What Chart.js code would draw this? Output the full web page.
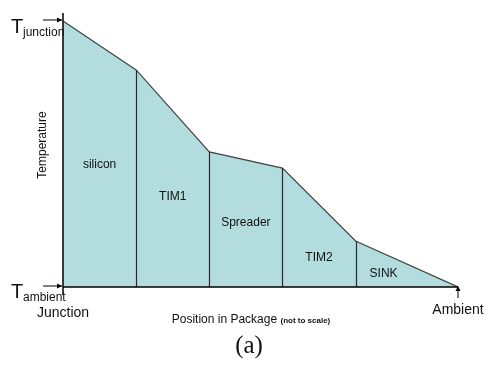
<!DOCTYPE html>
<html>
<head>
<meta charset="utf-8">
<script src="https://cdn.jsdelivr.net/npm/chart.js@4.4.1/dist/chart.umd.min.js"></script>
<style>
  html, body { margin: 0; padding: 0; background: #fff; }
  #wrap { width: 495px; height: 370px; }
</style>
</head>
<body>
<div id="wrap"><canvas id="tempChart" width="495" height="370"></canvas></div>
<script>
// ----------------------------
// DATA
// ----------------------------
const positions = [0, 1, 2, 3, 4, 5.4];            // layer boundaries (not to scale)
const temperatures = [100, 81.6, 50.8, 44.7, 17.3, 0]; // relative temperature
const layerNames = ['silicon', 'TIM1', 'Spreader', 'TIM2', 'SINK'];
const layerLabelY = [46, 34, 24, 11, 5];           // where each layer name sits

const FONT = '"Liberation Sans", Arial, sans-serif';

// ----------------------------
// DECORATION PLUGIN
// ----------------------------
const packagePlugin = {
  id: 'packagePlugin',
  afterDatasetsDraw(chart) {
    const { ctx, scales: { x, y } } = chart;
    const x0 = x.getPixelForValue(positions[0]);
    const xEnd = x.getPixelForValue(positions[positions.length - 1]);
    const yBase = y.getPixelForValue(0);
    const yTop = y.getPixelForValue(y.max);
    const yJ = y.getPixelForValue(temperatures[0]);

    ctx.save();

    // layer dividers
    ctx.strokeStyle = '#2a2a2a';
    ctx.lineWidth = 1.2;
    for (let i = 1; i < positions.length - 1; i++) {
      const px = Math.round(x.getPixelForValue(positions[i])) + 0.5;
      ctx.beginPath();
      ctx.moveTo(px, y.getPixelForValue(temperatures[i]));
      ctx.lineTo(px, yBase);
      ctx.stroke();
    }

    // axes
    ctx.strokeStyle = '#000';
    ctx.lineWidth = 1.5;
    ctx.beginPath();
    ctx.moveTo(x0, yTop);
    ctx.lineTo(x0, yBase + 8);
    ctx.moveTo(x0, yBase);
    ctx.lineTo(xEnd, yBase);
    ctx.stroke();

    // small arrows
    ctx.lineWidth = 1;
    const arrowRight = (ax, ay) => {
      ctx.beginPath();
      ctx.moveTo(ax - 19, ay);
      ctx.lineTo(ax, ay);
      ctx.stroke();
      ctx.beginPath();
      ctx.moveTo(ax, ay);
      ctx.lineTo(ax - 5, ay - 2.5);
      ctx.lineTo(ax - 5, ay + 2.5);
      ctx.closePath();
      ctx.fillStyle = '#000';
      ctx.fill();
    };
    arrowRight(x0 - 1, yJ - 1);
    arrowRight(x0 - 1, yBase - 1);

    // ambient arrow (pointing up)
    ctx.beginPath();
    ctx.moveTo(xEnd, yBase + 11);
    ctx.lineTo(xEnd, yBase);
    ctx.stroke();
    ctx.beginPath();
    ctx.moveTo(xEnd, yBase - 1);
    ctx.lineTo(xEnd - 2.5, yBase + 4);
    ctx.lineTo(xEnd + 2.5, yBase + 4);
    ctx.closePath();
    ctx.fill();

    // layer names
    ctx.fillStyle = '#111';
    ctx.font = '12px ' + FONT;
    ctx.textBaseline = 'middle';
    layerNames.forEach((name, i) => {
      const cx = (x.getPixelForValue(positions[i]) + x.getPixelForValue(positions[i + 1])) / 2;
      let px = cx;
      if (i === layerNames.length - 1) px = x.getPixelForValue(positions[i]) + 14;
      ctx.textAlign = i === layerNames.length - 1 ? 'left' : 'center';
      ctx.fillText(name, px, y.getPixelForValue(layerLabelY[i]));
    });

    // T junction / T ambient
    ctx.textAlign = 'left';
    ctx.textBaseline = 'alphabetic';
    ctx.font = '20px ' + FONT;
    ctx.fillText('T', 11, yJ + 12);
    ctx.fillText('T', 11, yBase + 11);
    ctx.font = '12px ' + FONT;
    ctx.fillText('junction', 23, yJ + 15);
    ctx.fillText('ambient', 23, yBase + 14);

    // ends of the x axis
    ctx.font = '14px ' + FONT;
    ctx.textAlign = 'center';
    ctx.fillText('Junction', x0, yBase + 30);
    ctx.fillText('Ambient', xEnd, yBase + 27);

    // axis titles
    ctx.font = '12px ' + FONT;
    const main = 'Position in Package ';
    ctx.textAlign = 'left';
    const mainW = ctx.measureText(main).width;
    ctx.font = 'bold 8px ' + FONT;
    const subW = ctx.measureText('(not to scale)').width;
    const startX = 251 - (mainW + subW) / 2;
    ctx.font = '12px ' + FONT;
    ctx.fillText(main, startX, yBase + 36);
    ctx.font = 'bold 8px ' + FONT;
    ctx.fillText('(not to scale)', startX + mainW, yBase + 36);

    ctx.save();
    ctx.translate(46, 145);
    ctx.rotate(-Math.PI / 2);
    ctx.font = '12px ' + FONT;
    ctx.textAlign = 'center';
    ctx.fillText('Temperature', 0, 0);
    ctx.restore();

    ctx.font = '25px "Liberation Serif", "Times New Roman", serif';
    ctx.textAlign = 'center';
    ctx.fillText('(a)', 249, yBase + 66);

    ctx.restore();
  }
};

// ----------------------------
// CHART
// ----------------------------
const ctx = document.getElementById('tempChart').getContext('2d');

new Chart(ctx, {
  type: 'line',
  data: {
    datasets: [{
      data: positions.map((p, i) => ({ x: p, y: temperatures[i] })),
      borderColor: '#444',
      borderWidth: 1.2,
      backgroundColor: '#b3dcdf',
      fill: 'origin',
      pointRadius: 0,
      tension: 0
    }]
  },
  options: {
    responsive: false,
    animation: false,
    layout: { padding: { left: 63, right: 37, top: 13, bottom: 83 } },
    plugins: {
      legend: { display: false },
      tooltip: { enabled: false }
    },
    scales: {
      x: { type: 'linear', min: 0, max: 5.4, display: false },
      y: { min: 0, max: 103, display: false }
    }
  },
  plugins: [packagePlugin]
});
</script>
</body>
</html>
